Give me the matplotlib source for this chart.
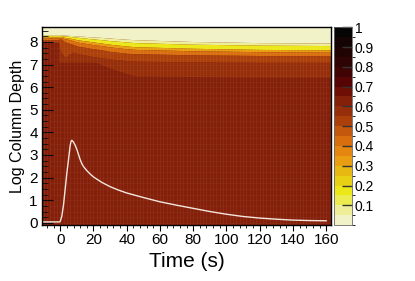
import numpy as np
import matplotlib
matplotlib.use("Agg")
import matplotlib.pyplot as plt
from matplotlib.colors import ListedColormap, BoundaryNorm
from matplotlib.cm import ScalarMappable
from matplotlib.ticker import MultipleLocator

plt.rcParams['font.family'] = ['Liberation Sans', 'DejaVu Sans']

# palette, 20 levels from 0 (pale) to 1 (black)
PALETTE = ['#f2f2c8', '#eeee98', '#ecec50', '#ece818', '#e8d014',
           '#e8b812', '#e89e10', '#e48610', '#d86e0e', '#c4580c',
           '#ac400a', '#962e0a', '#84200a', '#6e0e04', '#560404',
           '#400404', '#2e0404', '#200404', '#140404', '#050505']

# layer boundaries of the depth map (log column depth) vs time
layer_t = [-11, -1.01, -1, 0, 3, 5, 8, 10, 20, 22, 25, 30, 40, 45, 80, 120, 163]
b_pale = [8.32, 8.32, 8.32, 8.32, 8.30, 8.29, 8.28, 8.27, 8.22, 8.21, 8.20, 8.17, 8.12, 8.10, 8.02, 7.97, 7.95]
b_lyel = [8.28, 8.28, 8.28, 8.28, 8.26, 8.25, 8.23, 8.21, 8.13, 8.12, 8.10, 8.06, 8.00, 7.97, 7.90, 7.86, 7.84]
b_yel = [8.22, 8.22, 8.22, 8.24, 8.20, 8.18, 8.14, 8.10, 8.00, 7.98, 7.95, 7.90, 7.82, 7.79, 7.72, 7.67, 7.65]
b_yor = [8.18, 8.18, 8.18, 8.20, 8.14, 8.11, 8.05, 8.00, 7.88, 7.86, 7.84, 7.78, 7.70, 7.67, 7.61, 7.57, 7.55]
b_orange = [8.10, 8.10, 8.10, 8.15, 8.00, 7.95, 7.88, 7.82, 7.70, 7.68, 7.65, 7.58, 7.50, 7.48, 7.43, 7.40, 7.38]
b_brown = [8.00, 8.00, 8.00, 7.60, 7.30, 7.45, 7.55, 7.50, 7.35, 7.33, 7.30, 7.25, 7.18, 7.15, 7.12, 7.10, 7.10]
b_band = [8.00, 8.00, 7.10, 7.10, 7.10, 7.10, 7.10, 7.10, 7.10, 7.08, 7.00, 6.85, 6.60, 6.50, 6.47, 6.45, 6.45]
layer_val = [0.02, 0.08, 0.18, 0.32, 0.42, 0.50, 0.56, 0.62]  # top -> bulk

# light curve (white line)
curve_t = [-11, -0.5, 0, 1, 2, 3, 4, 5, 6, 6.5, 7, 8, 9, 10, 11, 12, 13, 14, 16, 18, 20,
           25, 30, 35, 40, 50, 60, 70, 80, 90, 100, 110, 120, 130, 140, 150, 160]
curve_y = [0.04, 0.04, 0.06, 0.3, 0.8, 1.5, 2.2, 2.8, 3.42, 3.6, 3.65, 3.57, 3.43,
           3.25, 3.02, 2.8, 2.62, 2.49, 2.31, 2.16, 2.03, 1.79, 1.6, 1.45, 1.32,
           1.12, 0.93, 0.78, 0.64, 0.5, 0.38, 0.28, 0.21, 0.16, 0.12, 0.1, 0.09]

XMIN, XMAX = -11, 163
YMIN, YMAX = -0.1, 8.65

cmap = ListedColormap(PALETTE)
norm = BoundaryNorm(np.linspace(0, 1, 21), cmap.N)

fig = plt.figure(figsize=(4.15, 2.81), dpi=100)
ax = fig.add_axes([0.101, 0.199, 0.697, 0.704])

bottoms = [b_pale, b_lyel, b_yel, b_yor, b_orange, b_brown, b_band]
tops = [[YMAX] * len(layer_t)] + bottoms[:-1]
ax.fill_between(layer_t, YMIN, YMAX, color=cmap(norm(layer_val[-1])), lw=0)
for lo, hi, v in zip(bottoms, tops, layer_val[:-1]):
    ax.fill_between(layer_t, lo, hi, color=cmap(norm(v)), lw=0)

# faint cell-edge texture of the map
for x in np.arange(XMIN + 1, XMAX, 2.0):
    ax.axvline(x, color='white', alpha=0.05, lw=0.7)
for y in np.arange(0, YMAX, 0.25):
    ax.axhline(y, color='white', alpha=0.04, lw=0.6)

ax.plot(curve_t, curve_y, color='#f4e6de', lw=1.0)

ax.set_xlim(XMIN, XMAX)
ax.set_ylim(YMIN, YMAX)
ax.xaxis.set_major_locator(MultipleLocator(20))
ax.xaxis.set_minor_locator(MultipleLocator(4))
ax.yaxis.set_major_locator(MultipleLocator(1))
ax.yaxis.set_minor_locator(MultipleLocator(0.25))
ax.tick_params(axis='x', which='major', direction='out', length=4, labelsize=11, pad=2)
ax.tick_params(axis='x', which='minor', direction='out', length=2)
ax.tick_params(axis='y', which='major', direction='in', length=8, labelsize=11, pad=3)
ax.tick_params(axis='y', which='minor', direction='in', length=4)
for s in ax.spines.values():
    s.set_linewidth(1.0)

ax.set_xlabel('Time (s)', fontsize=15, labelpad=3)
ax.set_ylabel('Log Column Depth', fontsize=11.5, labelpad=3)

cax = fig.add_axes([0.805, 0.199, 0.043, 0.704])
cb = fig.colorbar(ScalarMappable(norm=norm, cmap=cmap), cax=cax,
                  ticks=[0.1, 0.2, 0.3, 0.4, 0.5, 0.6, 0.7, 0.8, 0.9, 1.0])
cb.ax.set_yticklabels(['0.1', '0.2', '0.3', '0.4', '0.5', '0.6', '0.7', '0.8', '0.9', '1'])
cb.ax.tick_params(direction='in', length=7, width=1, color='#333333', labelsize=10, pad=2)
cb.outline.set_linewidth(0.6)
cb.outline.set_edgecolor('#666666')

fig.savefig('out.png', dpi=100)
